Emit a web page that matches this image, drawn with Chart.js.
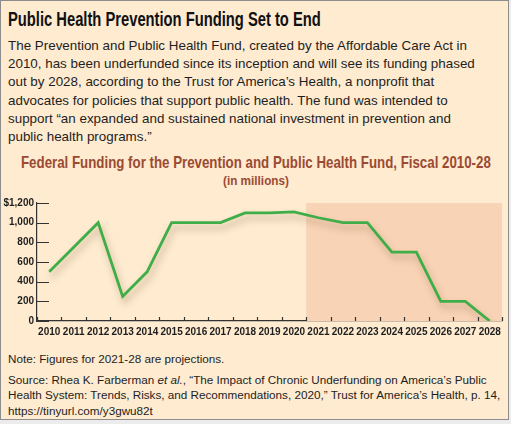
<!DOCTYPE html>
<html>
<head>
<meta charset="utf-8">
<script src="https://cdn.jsdelivr.net/npm/chart.js@4"></script>
<style>
  html, body { margin: 0; padding: 0; background: #ececec; }
  #box {
    position: relative;
    width: 507px; height: 418px;
    background: #feebd0;
    border: 1px solid #8c8c8c;
    font-family: "Liberation Sans", Arial, sans-serif;
    color: #1e1e1e;
    overflow: hidden;
  }
  .fit { position: absolute; white-space: nowrap; transform-origin: 0 0; font-weight: bold; }
  #headline { left: 7px; top: 6px; font-size: 21px; color: #111; }
  #chartTitle { top: 152px; font-size: 17px; color: #9b4a32; }
  #chartSub { top: 172px; font-size: 13px; color: #9b4a32; }
  #intro {
    position: absolute; left: 7px; top: 36px;
    font-size: 13.4px; line-height: 18.2px;
  }
  #plot { position: absolute; left: 0; top: 190px; width: 507px; height: 152px; }
  #notes {
    position: absolute; left: 7px; top: 350px;
    font-size: 11.7px; line-height: 15.6px; white-space: nowrap;
  }
  #notes .gap { height: 5px; }
</style>
</head>
<body>
<div id="box">
  <div id="headline" class="fit" data-left="7" data-width="313">Public Health Prevention Funding Set to End</div>
  <div id="intro">The Prevention and Public Health Fund, created by the Affordable Care Act in<br>2010, has been underfunded since its inception and will see its funding phased<br>out by 2028, according to the Trust for America’s Health, a nonprofit that<br>advocates for policies that support public health. The fund was intended to<br>support “an expanded and sustained national investment in prevention and<br>public health programs.”</div>
  <div id="chartTitle" class="fit" data-left="20" data-width="470">Federal Funding for the Prevention and Public Health Fund, Fiscal 2010-28</div>
  <div id="chartSub" class="fit" data-left="222" data-width="66">(in millions)</div>
  <div id="plot"><canvas id="chart"></canvas></div>
  <div id="notes">Note: Figures for 2021-28 are projections.<div class="gap"></div>Source: Rhea K. Farberman <i>et al.</i>, “The Impact of Chronic Underfunding on America’s Public<br>Health System: Trends, Risks, and Recommendations, 2020,” Trust for America’s Health, p. 14,<br>https://tinyurl.com/y3gwu82t</div>
</div>
<script>
// fiscal years and funding ($ millions)
const years = ['2010', '2011', '2012', '2013', '2014', '2015', '2016', '2017', '2018', '2019',
  '2020', '2021', '2022', '2023', '2024', '2025', '2026', '2027', '2028'];
const funding = [500, 750, 1000, 250, 500, 1000, 1000, 1000, 1100, 1100,
  1110, 1050, 1000, 1000, 700, 700, 200, 200, 0];
const yTicks = [0, 200, 400, 600, 800, 1000, 1200];
const projectedFrom = '2021';

// squeeze bold titles to mimic the condensed face of the original
document.querySelectorAll('.fit').forEach(el => {
  el.style.left = el.dataset.left + 'px';
  el.style.transform = 'scaleX(' + (el.dataset.width / el.offsetWidth) + ')';
});

const tickFont = { family: '"Liberation Sans", Arial, sans-serif', size: 10, weight: 'bold' };

// peach band behind projected years
const projectionBand = {
  id: 'projectionBand',
  beforeDatasetsDraw(chart) {
    const { ctx, chartArea, scales: { x, y } } = chart;
    const i = years.indexOf(projectedFrom);
    const left = (x.getPixelForValue(i - 1) + x.getPixelForValue(i)) / 2;
    const top = y.getPixelForValue(yTicks[yTicks.length - 1]);
    ctx.save();
    ctx.fillStyle = '#f9d3b6';
    ctx.fillRect(left, top, chartArea.right - left, y.getPixelForValue(0) - top);
    ctx.restore();
  }
};

// short tick marks: inward on y, upward on x between years
const tickMarks = {
  id: 'tickMarks',
  afterDraw(chart) {
    const { ctx, chartArea, scales: { x, y } } = chart;
    ctx.save();
    ctx.strokeStyle = '#333';
    ctx.lineWidth = 1.2;
    ctx.beginPath();
    yTicks.forEach(v => {
      const py = Math.round(y.getPixelForValue(v)) + 0.5;
      ctx.moveTo(chartArea.left, py);
      ctx.lineTo(chartArea.left + 12, py);
    });
    for (let i = 0; i <= years.length; i++) {
      const px = Math.round(x.getPixelForValue(i - 0.5)) + 0.5;
      ctx.moveTo(px, chartArea.bottom);
      ctx.lineTo(px, chartArea.bottom - 4);
    }
    ctx.stroke();
    ctx.restore();
  }
};

// soft drop shadow under the line
const lineShadow = {
  id: 'lineShadow',
  beforeDatasetDraw(chart) {
    const ctx = chart.ctx;
    ctx.save();
    ctx.shadowColor = 'rgba(110, 80, 40, 0.4)';
    ctx.shadowBlur = 7;
    ctx.shadowOffsetX = 2;
    ctx.shadowOffsetY = 5;
  },
  afterDatasetDraw(chart) {
    chart.ctx.restore();
  }
};

new Chart(document.getElementById('chart'), {
  type: 'line',
  data: {
    labels: years,
    datasets: [{
      data: funding,
      borderColor: '#3fae49',
      borderWidth: 2.8,
      pointRadius: 0,
      tension: 0,
      fill: false
    }]
  },
  options: {
    responsive: true,
    maintainAspectRatio: false,
    animation: false,
    layout: { padding: { left: 0, right: 6, top: 12, bottom: 0 } },
    plugins: {
      legend: { display: false },
      tooltip: { enabled: false }
    },
    scales: {
      x: {
        offset: true,
        grid: { display: false, drawTicks: false },
        border: { color: '#333', width: 1.2 },
        ticks: {
          color: '#1e1e1e', maxRotation: 0, autoSkip: false, padding: 5,
          font: tickFont
        }
      },
      y: {
        min: 0, max: 1200,
        afterFit(scale) { scale.width = 36; },
        afterBuildTicks(scale) { scale.ticks = yTicks.map(v => ({ value: v })); },
        grid: { display: false, drawTicks: false },
        border: { color: '#333', width: 1.2 },
        ticks: {
          color: '#1e1e1e', padding: 3,
          font: tickFont,
          callback: v => v === 1200 ? '$1,200' : v.toLocaleString('en-US')
        }
      }
    }
  },
  plugins: [projectionBand, tickMarks, lineShadow]
});
</script>
</body>
</html>
